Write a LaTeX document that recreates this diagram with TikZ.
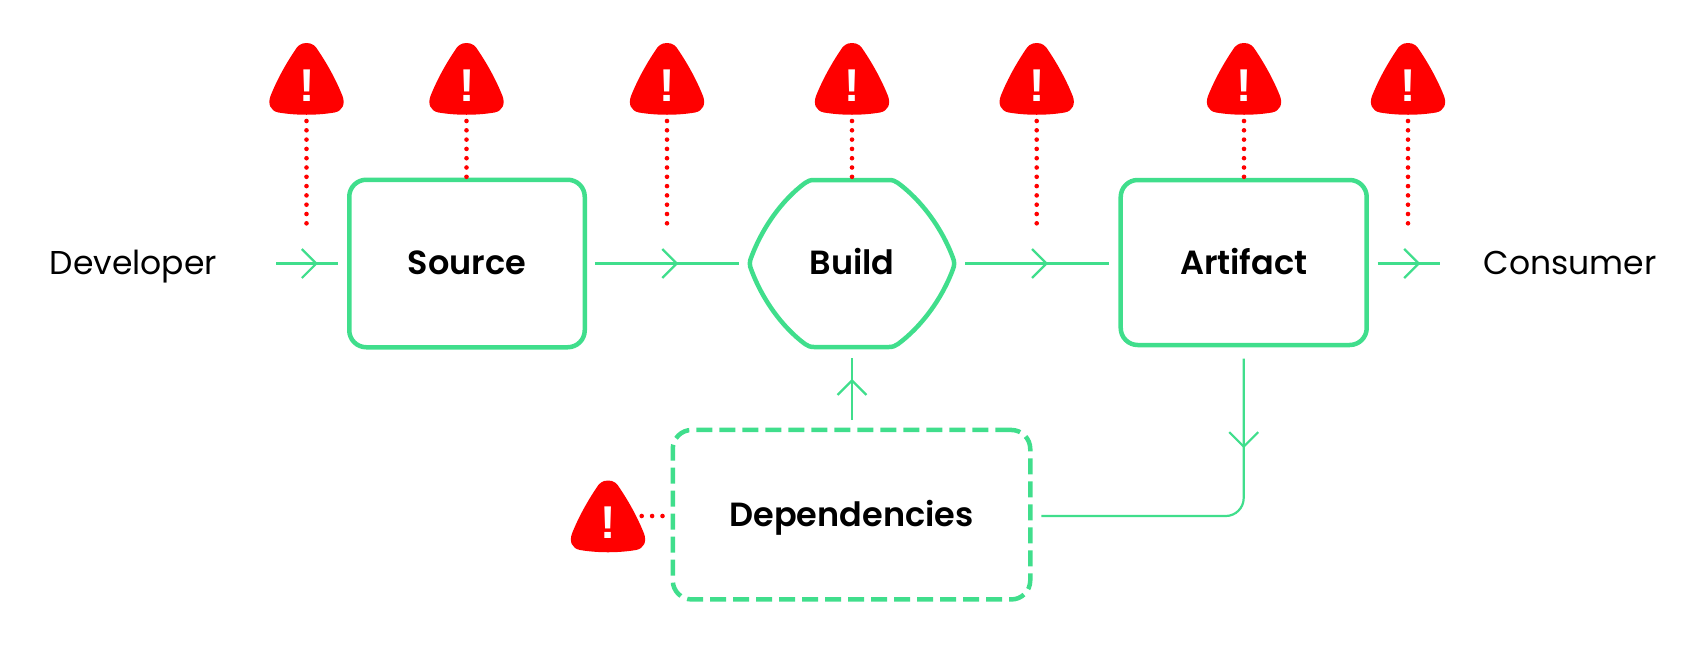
\documentclass[tikz,border=0pt]{standalone}
\usepackage{fontspec}
\setmainfont[BoldFont={Poppins SemiBold}]{Poppins}
\newfontfamily\markfont{Liberation Sans}
\usetikzlibrary{decorations.markings}
\definecolor{lineGreen}{HTML}{40DE8C}
\definecolor{warnRed}{HTML}{FF0000}
\tikzset{
  x=1pt,y=-1pt,
  boxbase/.style={draw=lineGreen,line width=4.5pt,outer sep=0pt,rounded corners=17pt,inner sep=0pt,font=\fontsize{33.5}{36}\selectfont\bfseries},
  solidbox/.style={boxbase},
  dashbox/.style={boxbase,rounded corners=19pt,dash pattern=on 16pt off 7pt},
  plainlabel/.style={inner sep=0pt,text height=24pt,text depth=2.4pt,font=\fontsize{33}{36}\selectfont},
  hiddenshape/.style={inner sep=0pt,outer sep=0pt,font=\fontsize{33.5}{36}\selectfont\bfseries},
  flow/.style={draw=lineGreen,line width=2.2pt},
  chevron/.style={postaction={decorate,decoration={markings,mark=at position #1 with {\draw[draw=lineGreen,line width=2.2pt,sharp corners] (-14.5pt,14.5pt)--(0pt,0pt)--(-14.5pt,-14.5pt);}}}},
  risk/.style={draw=warnRed,line width=4.6pt,line cap=round,dash pattern=on 0pt off 9.3pt},
  warnmark/.style={text=white,inner sep=0pt,font=\markfont\fontsize{46}{46}\selectfont\bfseries},
  warnshape/.pic={
    \fill[warnRed] (0,-36) .. controls (6,-36) and (9,-33) .. (12,-28)
      .. controls (22,-13) and (30,2) .. (36,17)
      .. controls (39,25) and (36,32) .. (28,33.5)
      .. controls (10,36.5) and (-10,36.5) .. (-28,33.5)
      .. controls (-36,32) and (-39,25) .. (-36,17)
      .. controls (-30,2) and (-22,-13) .. (-12,-28)
      .. controls (-9,-33) and (-6,-36) .. (0,-36) -- cycle;
  }
}
\begin{document}
\begin{tikzpicture}
\useasboundingbox (0,0) rectangle (1704,646);
% warning triangles
\foreach \wx in {306.5,466.5,667,852,1036.7,1244,1408}{\pic at (\wx,79) {warnshape};}
\pic at (608,516.5) {warnshape};
\node[warnmark] (w1) at (306.8,85.5) {!};
\node[warnmark] (w2) at (466.8,85.5) {!};
\node[warnmark] (w3) at (667.3,85.5) {!};
\node[warnmark] (w4) at (852.3,85.5) {!};
\node[warnmark] (w5) at (1037,85.5) {!};
\node[warnmark] (w6) at (1244.3,85.5) {!};
\node[warnmark] (w7) at (1408.3,85.5) {!};
\node[warnmark] (wd) at (608.3,523) {!};
% labels and boxes
\node[plainlabel] (dev) at (133.3,263.5) {Developer};
\node[plainlabel] (con) at (1570,263.5) {Consumer};
\node[solidbox,text height=24pt,text depth=2.4pt,minimum width=235.5pt,minimum height=167.5pt] (src) at (467,263.5) {Source};
\node[hiddenshape,text height=24pt,text depth=2.4pt,minimum width=204pt,minimum height=167pt] (build) at (852,263.5) {Build};
\draw[lineGreen,line width=4.5pt,line join=round]
  (814,180) -- (889,180)
  .. controls (893,180) and (895,181) .. (898,183)
  .. controls (921,200) and (942,228) .. (953,258)
  .. controls (954.5,261) and (954.5,266) .. (953,269)
  .. controls (942,299) and (921,327) .. (898,344)
  .. controls (895,346) and (893,347) .. (889,347)
  -- (814,347)
  .. controls (810,347) and (808,346) .. (805,344)
  .. controls (782,327) and (762,299) .. (751,269)
  .. controls (749.5,266) and (749.5,261) .. (751,258)
  .. controls (762,228) and (782,200) .. (805,183)
  .. controls (808,181) and (810,180) .. (814,180) -- cycle;
\node[solidbox,text height=26pt,text depth=2.4pt,minimum width=246pt,minimum height=165pt] (art) at (1243.7,262.5) {Artifact};
\node[dashbox,text height=26pt,text depth=2pt,minimum width=357.5pt,minimum height=169.5pt] (dep) at (851.5,514.7) {Dependencies};
% free ends
\coordinate (r1) at (306.5,224);
\coordinate (r3) at (667,224);
\coordinate (r5) at (1036.7,224);
\coordinate (r7) at (1408,224);
% risk lines
\draw[risk] ([xshift=-.3,yshift=-35.5]w1.center) -- (r1);
\draw[risk] ([xshift=-.3,yshift=-35.5]w2.center) -- ([xshift=-.5,yshift=1.5]src.north);
\draw[risk] ([xshift=-.3,yshift=-35.5]w3.center) -- (r3);
\draw[risk] ([xshift=-.3,yshift=-35.5]w4.center) -- ([yshift=1.5]build.north);
\draw[risk] ([xshift=-.3,yshift=-35.5]w5.center) -- (r5);
\draw[risk] ([xshift=-.3,yshift=-35.5]w6.center) -- ([xshift=0.3,yshift=1.5]art.north);
\draw[risk] ([xshift=-.3,yshift=-35.5]w7.center) -- (r7);
\draw[risk,dash pattern=on 0pt off 10.4pt] ([xshift=33.4,yshift=7]wd.center) -- ([xshift=-10,yshift=-1.3]dep.west);
% flows
\draw[flow,chevron=40pt] ([xshift=143]dev.center) -- ([xshift=-11]src.west);
\draw[flow,chevron=82pt] ([xshift=10]src.east) -- ([xshift=-11]build.west);
\draw[flow,chevron=81.5pt] ([xshift=11]build.east) -- ([yshift=-1,xshift=-12]art.west);
\draw[flow,chevron=41pt] ([yshift=-1,xshift=11]art.east) -- ([xshift=-130]con.center);
\draw[flow,chevron=39.5pt] ([xshift=.5,yshift=10]dep.north) -- ([yshift=-11]build.south);
\draw[flow,rounded corners=18pt,chevron=88pt] ([yshift=-13.6]art.south) |- ([xshift=11,yshift=-1.3]dep.east);
\end{tikzpicture}
\end{document}
